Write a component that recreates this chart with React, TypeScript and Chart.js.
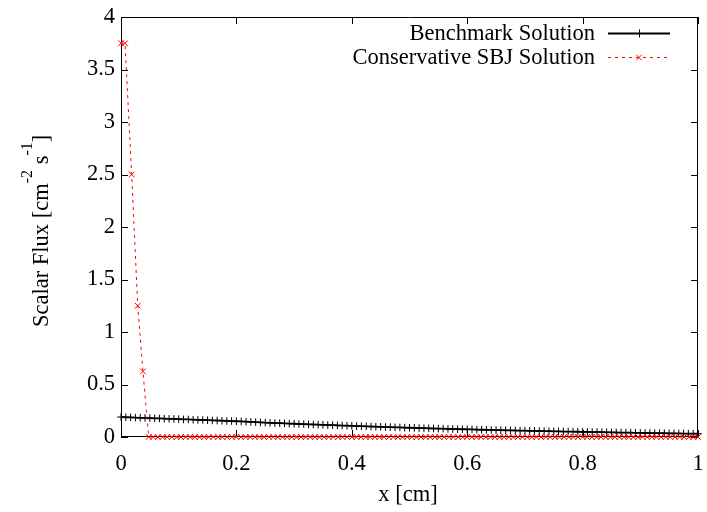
import { useEffect, useRef } from "react";
import { Chart, registerables } from "chart.js";

Chart.register(...registerables);

// ---- data ----
const xTickValues = [0, 0.2, 0.4, 0.6, 0.8, 1];
const xTickLabels = ["0", "0.2", "0.4", "0.6", "0.8", "1"];
const yTickValues = [0, 0.5, 1, 1.5, 2, 2.5, 3, 3.5, 4];
const yTickLabels = ["0", "0.5", "1", "1.5", "2", "2.5", "3", "3.5", "4"];

// Benchmark solution: sampled on a uniform mesh of 120 intervals over [0, 1]
const benchIntervals = 120;
const benchFlux = [
  0.190, 0.188, 0.187, 0.185, 0.183, 0.182,
  0.180, 0.178, 0.177, 0.175, 0.173, 0.172,
  0.170, 0.168, 0.167, 0.165, 0.163, 0.162,
  0.160, 0.158, 0.157, 0.155, 0.153, 0.152,
  0.150, 0.148, 0.146, 0.144, 0.141, 0.139,
  0.137, 0.135, 0.133, 0.132, 0.130, 0.128,
  0.126, 0.124, 0.123, 0.121, 0.119, 0.118,
  0.116, 0.114, 0.113, 0.111, 0.109, 0.108,
  0.106, 0.104, 0.103, 0.101, 0.100, 0.098,
  0.097, 0.095, 0.094, 0.092, 0.091, 0.089,
  0.088, 0.087, 0.085, 0.084, 0.083, 0.081,
  0.080, 0.079, 0.077, 0.076, 0.075, 0.074,
  0.073, 0.072, 0.070, 0.069, 0.068, 0.067,
  0.066, 0.065, 0.064, 0.063, 0.062, 0.061,
  0.060, 0.059, 0.058, 0.057, 0.056, 0.055,
  0.054, 0.053, 0.052, 0.052, 0.051, 0.050,
  0.049, 0.048, 0.047, 0.047, 0.046, 0.045,
  0.044, 0.043, 0.042, 0.042, 0.041, 0.040,
  0.039, 0.038, 0.038, 0.037, 0.036, 0.036,
  0.035, 0.034, 0.034, 0.033, 0.032, 0.032,
  0.031,
];

// Conservative SBJ solution: first few points, then a flat zero tail
const sbjHeadX = [0, 0.007, 0.0185, 0.029, 0.038];
const sbjHeadFlux = [3.75, 3.75, 2.5, 1.25, 0.625];
const sbjTailStart = 0.048;
const sbjTailStep = 0.008;
const sbjTailFlux = [
  0, 0, 0, 0, 0, 0, 0, 0, 0, 0, 0, 0, 0, 0, 0, 0, 0, 0, 0, 0,
  0, 0, 0, 0, 0, 0, 0, 0, 0, 0, 0, 0, 0, 0, 0, 0, 0, 0, 0, 0,
  0, 0, 0, 0, 0, 0, 0, 0, 0, 0, 0, 0, 0, 0, 0, 0, 0, 0, 0, 0,
  0, 0, 0, 0, 0, 0, 0, 0, 0, 0, 0, 0, 0, 0, 0, 0, 0, 0, 0, 0,
  0, 0, 0, 0, 0, 0, 0, 0, 0, 0, 0, 0, 0, 0, 0, 0, 0, 0, 0, 0,
  0, 0, 0, 0, 0, 0, 0, 0, 0, 0, 0, 0, 0, 0, 0, 0, 0, 0, 0, 0,
  0,
];

const benchLabel = "Benchmark Solution";
const sbjLabel = "Conservative SBJ Solution";
const xTitle = "x [cm]";

const FONT = "'Liberation Serif', 'Times New Roman', serif";
const FS = 22.5;

export default function App() {
  const ref = useRef<HTMLCanvasElement | null>(null);

  useEffect(() => {
    const canvas = ref.current;
    if (!canvas) return;

    const benchData = benchFlux.map((y, i) => ({ x: i / benchIntervals, y }));
    const sbjData = [
      ...sbjHeadFlux.map((y, i) => ({ x: sbjHeadX[i], y })),
      ...sbjTailFlux.map((y, i) => ({ x: Math.min(1, sbjTailStart + i * sbjTailStep), y })),
    ];

    const framePlugin = {
      id: "gnuplotFrame",
      beforeDatasetsDraw(chart: any) {
        const { ctx, chartArea } = chart;
        const { left, right, top, bottom } = chartArea;
        const xs = chart.scales.x;
        const ys = chart.scales.y;
        ctx.save();
        ctx.strokeStyle = "#000";
        ctx.lineWidth = 1;
        ctx.beginPath();
        ctx.rect(left + 0.5, top + 0.5, right - left - 1, bottom - top - 1);
        ctx.stroke();
        const tl = 7;
        ctx.beginPath();
        xTickValues.forEach((v) => {
          const px = Math.round(xs.getPixelForValue(v)) + 0.5;
          ctx.moveTo(px, bottom);
          ctx.lineTo(px, bottom - tl);
          ctx.moveTo(px, top);
          ctx.lineTo(px, top + tl);
        });
        yTickValues.forEach((v) => {
          const py = Math.round(ys.getPixelForValue(v)) + 0.5;
          ctx.moveTo(left, py);
          ctx.lineTo(left + tl, py);
          ctx.moveTo(right, py);
          ctx.lineTo(right - tl, py);
        });
        ctx.stroke();
        ctx.restore();
      },
      afterDraw(chart: any) {
        const { ctx } = chart;
        ctx.save();
        ctx.fillStyle = "#000";
        const mainFont = `${FS}px ${FONT}`;
        const supFont = `16px ${FONT}`;
        ctx.font = mainFont;
        ctx.textBaseline = "alphabetic";

        // x title
        ctx.textAlign = "center";
        ctx.fillText(xTitle, 408, 501);

        // y title with superscripts, rotated
        ctx.save();
        ctx.translate(48, 327);
        ctx.rotate(-Math.PI / 2);
        ctx.textAlign = "left";
        const parts: [string, boolean][] = [
          ["Scalar Flux [cm", false],
          ["-2", true],
          [" s", false],
          ["-1", true],
          ["]", false],
        ];
        let cx = 0;
        parts.forEach(([t, sup]) => {
          ctx.font = sup ? supFont : mainFont;
          ctx.fillText(t, cx, sup ? -16 : 0);
          cx += ctx.measureText(t).width;
        });
        ctx.restore();

        // legend
        ctx.font = mainFont;
        ctx.textAlign = "right";
        ctx.fillText(benchLabel, 595, 40);
        ctx.fillText(sbjLabel, 595, 64);

        const x0 = 608, x1 = 670, xm = 639;
        // benchmark sample
        ctx.strokeStyle = "#000";
        ctx.lineWidth = 1.8;
        ctx.beginPath();
        ctx.moveTo(x0, 33.5);
        ctx.lineTo(x1, 33.5);
        ctx.stroke();
        ctx.lineWidth = 1;
        ctx.beginPath();
        ctx.moveTo(xm + 0.5, 29.5);
        ctx.lineTo(xm + 0.5, 37.5);
        ctx.stroke();
        // sbj sample
        ctx.strokeStyle = "#ff0000";
        ctx.lineWidth = 1;
        ctx.setLineDash([3, 4]);
        ctx.beginPath();
        ctx.moveTo(x0, 57.5);
        ctx.lineTo(x1, 57.5);
        ctx.stroke();
        ctx.setLineDash([]);
        ctx.beginPath();
        ctx.moveTo(xm - 2.7, 54.8);
        ctx.lineTo(xm + 2.7, 60.2);
        ctx.moveTo(xm - 2.7, 60.2);
        ctx.lineTo(xm + 2.7, 54.8);
        ctx.stroke();

        ctx.restore();
      },
    };

    const chart = new Chart(canvas, {
      type: "scatter",
      data: {
        datasets: [
          {
            label: sbjLabel,
            data: sbjData,
            showLine: true,
            borderColor: "#ff0000",
            backgroundColor: "#ff0000",
            borderWidth: 1,
            borderDash: [3, 4],
            pointStyle: "crossRot",
            pointRadius: 4,
            pointBorderWidth: 1,
            pointBorderColor: "#ff0000",
            clip: false,
            order: 0,
          } as any,
          {
            label: benchLabel,
            data: benchData,
            showLine: true,
            borderColor: "#000",
            backgroundColor: "#000",
            borderWidth: 1.8,
            pointStyle: "cross",
            pointRadius: 3.8,
            pointBorderWidth: 1,
            pointBorderColor: "#000",
            clip: false,
            order: 1,
          } as any,
        ],
      },
      options: {
        animation: false,
        responsive: false,
        devicePixelRatio: 1,
        layout: { padding: { top: 17, right: 9, bottom: 0, left: 0 } },
        plugins: {
          legend: { display: false },
          tooltip: { enabled: false },
        },
        scales: {
          x: {
            type: "linear",
            min: 0,
            max: 1,
            afterFit: (s: any) => {
              s.height = 75;
              s.paddingLeft = 0;
              s.paddingRight = 0;
            },
            afterBuildTicks: (s: any) => {
              s.ticks = xTickValues.map((v) => ({ value: v }));
            },
            grid: { display: false, drawTicks: false },
            border: { display: false },
            ticks: {
              padding: 14,
              maxRotation: 0,
              autoSkip: false,
              color: "#000",
              font: { family: FONT, size: FS },
              callback: (v: any) => {
                const i = xTickValues.findIndex((t) => Math.abs(t - Number(v)) < 1e-9);
                return i >= 0 ? xTickLabels[i] : "";
              },
            },
          },
          y: {
            type: "linear",
            min: 0,
            max: 4,
            afterFit: (s: any) => {
              s.width = 121;
              s.paddingTop = 0;
              s.paddingBottom = 0;
            },
            afterBuildTicks: (s: any) => {
              s.ticks = yTickValues.map((v) => ({ value: v }));
            },
            grid: { display: false, drawTicks: false },
            border: { display: false },
            ticks: {
              padding: 6,
              autoSkip: false,
              color: "#000",
              font: { family: FONT, size: FS },
              callback: (v: any) => {
                const i = yTickValues.findIndex((t) => Math.abs(t - Number(v)) < 1e-9);
                return i >= 0 ? yTickLabels[i] : "";
              },
            },
          },
        },
      },
      plugins: [framePlugin],
    });

    return () => chart.destroy();
  }, []);

  return (
    <div style={{ position: "fixed", left: 0, top: 0, width: 707, height: 512, background: "#fff" }}>
      <canvas ref={ref} width={707} height={512} style={{ display: "block" }} />
    </div>
  );
}
